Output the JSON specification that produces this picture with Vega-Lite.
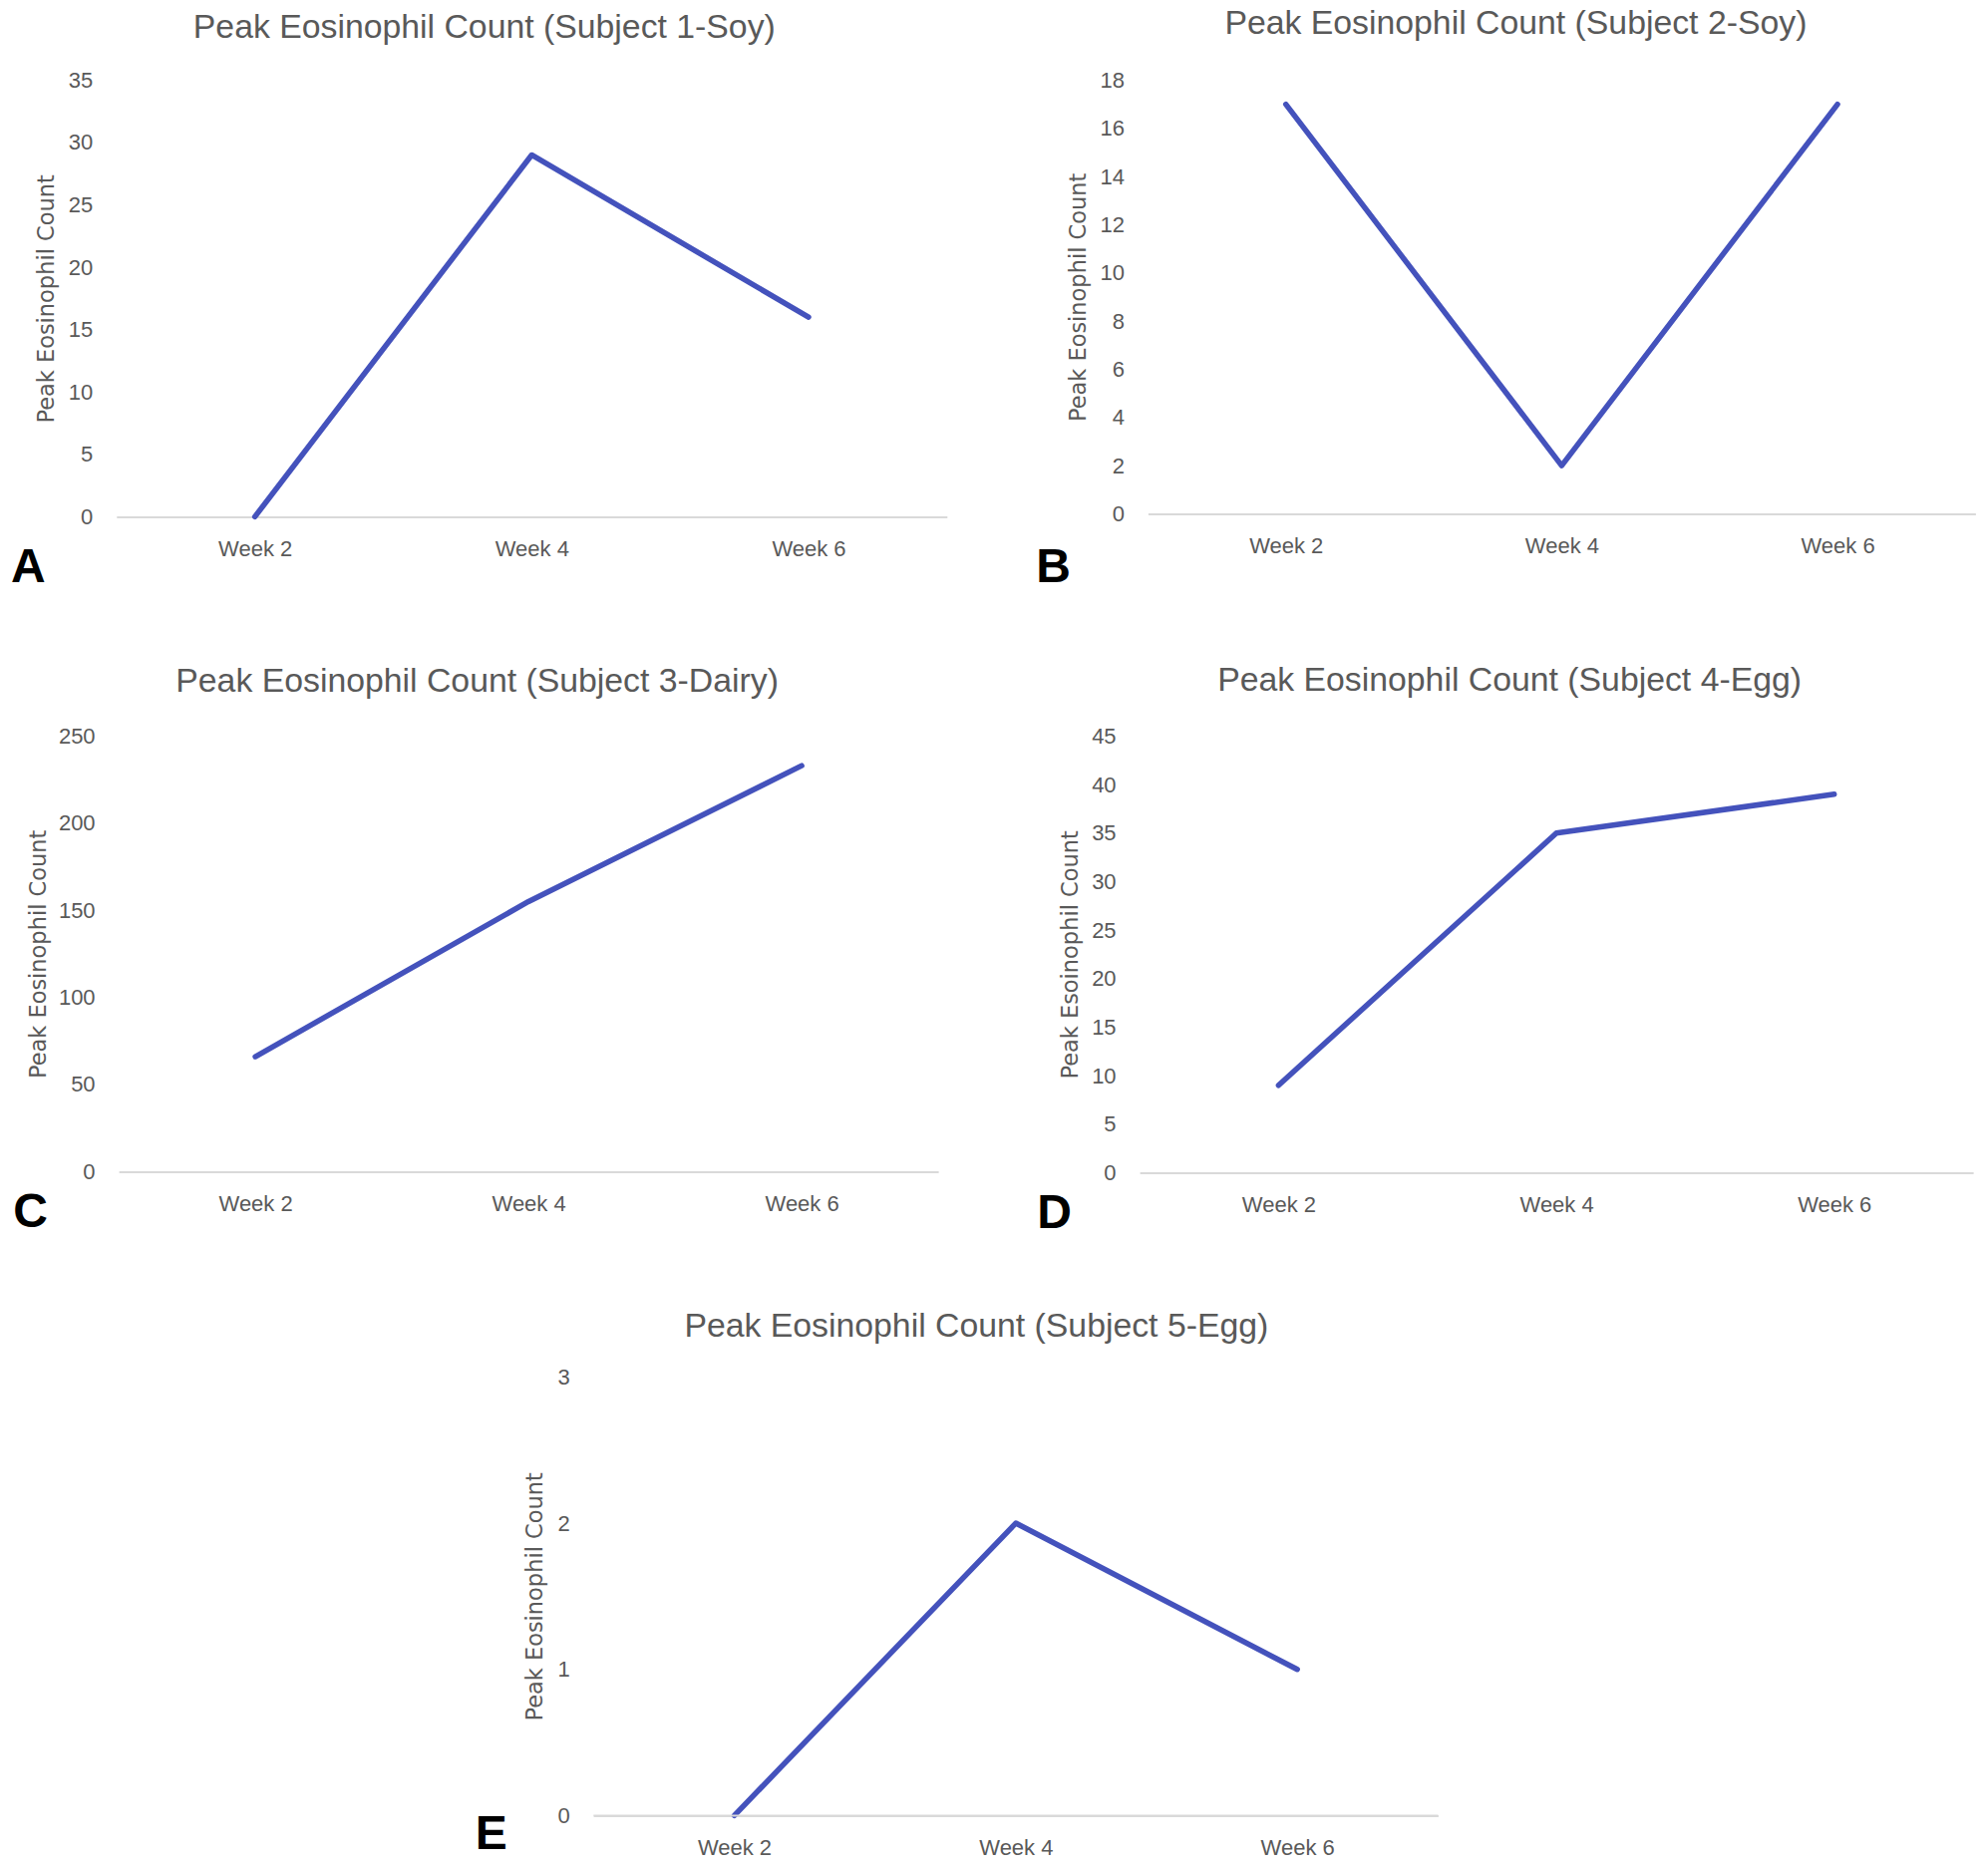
{
  "$schema": "https://vega.github.io/schema/vega-lite/v6.json",
  "background": "white",
  "padding": {"left": 9.6, "top": 7.4, "right": 5, "bottom": 5},
  "config": {
    "view": {"stroke": null},
    "axis": {"labelFont": "Liberation Sans", "labelFontSize": 22, "labelColor": "#595959", "ticks": false, "grid": false, "domainColor": "#d9d9d9", "domainWidth": 2},
    "axisX": {"labelAngle": 0, "labelPadding": 22, "titleFont": "Liberation Sans", "titleFontSize": 48, "titleFontWeight": "bold", "titleColor": "#000000", "titleAlign": "center", "titleBaseline": "alphabetic"},
    "axisY": {"domain": false, "labelPadding": 24, "titleFont": "DejaVu Sans", "titleFontSize": 22.5, "titleFontWeight": "normal", "titleColor": "#595959", "titleAngle": -90, "titleAlign": "center", "titleBaseline": "middle"},
    "title": {"font": "Liberation Sans", "fontSize": 33.8, "fontWeight": "normal", "color": "#595959", "anchor": "middle", "frame": "group", "baseline": "alphabetic"},
    "line": {"color": "#4452BC", "strokeWidth": 5.5, "strokeCap": "round", "strokeJoin": "round"}
  },
  "center": true,
  "spacing": 72,
  "vconcat": [
    {
      "spacing": 88.6,
      "hconcat": [
        {
          "title": {"text": "Peak Eosinophil Count (Subject 1-Soy)", "offset": 24.6, "dx": -47.5},
          "width": 833, "height": 438,
          "data": {"values": [{"week": "Week 2", "count": 0}, {"week": "Week 4", "count": 29}, {"week": "Week 6", "count": 16}]},
          "mark": "line",
          "encoding": {
            "x": {"field": "week", "type": "ordinal", "sort": null, "scale": {"type": "point", "padding": 0.5}, "axis": {"title": "A", "titleX": -88.9, "titleY": 65}},
            "y": {"field": "count", "type": "quantitative", "scale": {"domain": [0, 35], "nice": false}, "axis": {"values": [0, 5, 10, 15, 20, 25, 30, 35], "title": "Peak Eosinophil Count", "titleX": -70, "titleY": 219}}
          }
        },
        {
          "title": {"text": "Peak Eosinophil Count (Subject 2-Soy)", "offset": 28.2, "dx": -46},
          "width": 830, "height": 435,
          "data": {"values": [{"week": "Week 2", "count": 17}, {"week": "Week 4", "count": 2}, {"week": "Week 6", "count": 17}]},
          "mark": "line",
          "encoding": {
            "x": {"field": "week", "type": "ordinal", "sort": null, "scale": {"type": "point", "padding": 0.5}, "axis": {"title": "B", "titleX": -95.4, "titleY": 68}},
            "y": {"field": "count", "type": "quantitative", "scale": {"domain": [0, 18], "nice": false}, "axis": {"values": [0, 2, 4, 6, 8, 10, 12, 14, 16, 18], "title": "Peak Eosinophil Count", "titleX": -70, "titleY": 217.5}}
          }
        }
      ]
    },
    {
      "spacing": 98,
      "hconcat": [
        {
          "title": {"text": "Peak Eosinophil Count (Subject 3-Dairy)", "offset": 26.1, "dx": -51.5},
          "width": 822, "height": 437,
          "data": {"values": [{"week": "Week 2", "count": 66}, {"week": "Week 4", "count": 155}, {"week": "Week 6", "count": 233}]},
          "mark": "line",
          "encoding": {
            "x": {"field": "week", "type": "ordinal", "sort": null, "scale": {"type": "point", "padding": 0.5}, "axis": {"title": "C", "titleX": -89, "titleY": 55}},
            "y": {"field": "count", "type": "quantitative", "scale": {"domain": [0, 250], "nice": false}, "axis": {"values": [0, 50, 100, 150, 200, 250], "title": "Peak Eosinophil Count", "titleX": -81, "titleY": 218.5}}
          }
        },
        {
          "title": {"text": "Peak Eosinophil Count (Subject 4-Egg)", "offset": 27.6, "dx": -47},
          "width": 836, "height": 438,
          "data": {"values": [{"week": "Week 2", "count": 9}, {"week": "Week 4", "count": 35}, {"week": "Week 6", "count": 39}]},
          "mark": "line",
          "encoding": {
            "x": {"field": "week", "type": "ordinal", "sort": null, "scale": {"type": "point", "padding": 0.5}, "axis": {"title": "D", "titleX": -86, "titleY": 55}},
            "y": {"field": "count", "type": "quantitative", "scale": {"domain": [0, 45], "nice": false}, "axis": {"values": [0, 5, 10, 15, 20, 25, 30, 35, 40, 45], "title": "Peak Esoinophil Count", "titleX": -70, "titleY": 219}}
          }
        }
      ]
    },
    {
      "title": {"text": "Peak Eosinophil Count (Subject 5-Egg)", "offset": 22.4, "dx": -39.5},
      "width": 847, "height": 440,
      "resolve": {"axis": {"y": "independent"}},
      "layer": [
        {
          "data": {"values": [{"week": "Week 2", "count": 0}, {"week": "Week 4", "count": 2}, {"week": "Week 6", "count": 1}]},
          "mark": "line",
          "encoding": {
            "x": {"field": "week", "type": "ordinal", "sort": null, "scale": {"type": "point", "padding": 0.5}, "axis": {"title": "E", "titleX": -103, "titleY": 33}},
            "y": {"field": "count", "type": "quantitative", "scale": {"domain": [0, 3], "nice": false}, "axis": {"values": [0, 1, 2, 3], "title": "Peak Eosinophil Count", "titleX": -58.6, "titleY": 220}}
          }
        },
        {
          "data": {"values": [{}]},
          "mark": {"type": "rule", "color": "#d9d9d9", "strokeWidth": 2},
          "encoding": {
            "y": {"datum": 0, "type": "quantitative", "axis": {"orient": "right", "labels": false, "domain": false, "ticks": false, "title": " ", "titleAngle": 0, "titleX": 49, "titleY": 220}}
          }
        }
      ]
    }
  ]
}
